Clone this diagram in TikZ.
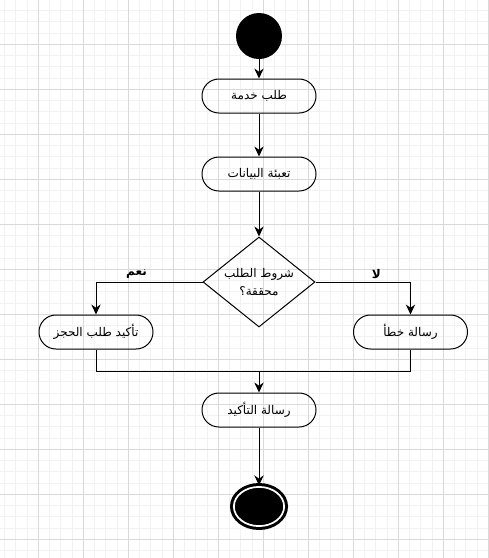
\documentclass[tikz,border=0pt]{standalone}
\usepackage{fontspec}
\newfontfamily\arabicfont[Script=Arabic]{DejaVu Sans}
\TeXXeTstate=1
\usetikzlibrary{arrows.meta,shapes.geometric}

\definecolor{gridminor}{HTML}{F2F2F2}
\definecolor{gridmajor}{HTML}{D9D9D9}

\tikzset{
  activity/.style={draw, line width=0.75pt, rounded corners=12.7pt, minimum width=85.5pt,
    minimum height=25.5pt, inner sep=0pt, font=\arabicfont\fontsize{9}{10}\selectfont},
  decision/.style={draw, line width=0.75pt, diamond, aspect=1.25, minimum width=84pt,
    minimum height=67.5pt, inner sep=0pt, align=center,
    font=\arabicfont\fontsize{9}{13.5}\selectfont},
  answer/.style={font=\arabicfont\bfseries\fontsize{9}{10}\selectfont, inner sep=2pt},
  flow/.style={-{Stealth[length=7.5pt,width=7pt]}, line width=0.75pt},
  link/.style={line width=0.75pt}
}

\begin{document}
\begin{tikzpicture}[x=0.75pt,y=-0.75pt]

\useasboundingbox (0,0) rectangle (489,558);
\fill[white] (0,0) rectangle (489,558);

\foreach \i in {0,...,43}
  \draw[gridminor, line width=0.75pt] (4.55+11.25*\i,0) -- (4.55+11.25*\i,558);
\foreach \j in {0,...,48}
  \draw[gridminor, line width=0.75pt] (0,10.55+11.25*\j) -- (489,10.55+11.25*\j);
\foreach \i in {0,...,10}
  \draw[gridmajor, line width=0.75pt] (38.3+45*\i,0) -- (38.3+45*\i,558);
\foreach \j in {0,...,11}
  \draw[gridmajor, line width=0.75pt] (0,44.3+45*\j) -- (489,44.3+45*\j);

\node [circle, fill=black, minimum size=34.5pt, inner sep=0pt] (start) at (259,36) {};

\node [activity] (request) at (259,96) {\beginR طلب خدمة\endR};
\node [activity] (filldata) at (259,174) {\beginR تعبئة البيانات\endR};
\node [decision] (check) at (259,282) {\beginR شروط الطلب\endR\\\beginR محققة؟\endR};
\node [activity] (confirm) at (96,332) {\beginR تأكيد طلب الحجز\endR};
\node [activity] (error) at (410.5,332) {\beginR رسالة خطأ\endR};
\coordinate (join) at (259,371);
\node [activity] (notice) at (259,410) {\beginR رسالة التأكيد\endR};

\node [ellipse, fill=black, draw=black, line width=2.25pt, double=white, double distance=1.3pt,
  minimum width=37.7pt, minimum height=29.4pt, inner sep=0pt] (stop) at (259,506.5) {};

\draw[flow] (start) -- (request);
\draw[flow] (request) -- (filldata);
\draw[flow] (filldata) -- (check);
\draw[flow] (check.west) -| node[answer, pos=0.31, above] {\beginR نعم\endR} (confirm);
\draw[flow] (check.east) -| node[answer, pos=0.32, above] {\beginR لا\endR} (error);
\draw[link] (confirm.south) |- (join);
\draw[link] (error.south) |- (join);
\draw[flow] (join) -- (notice);
\draw[flow] (notice) -- (stop);
\end{tikzpicture}
\end{document}
